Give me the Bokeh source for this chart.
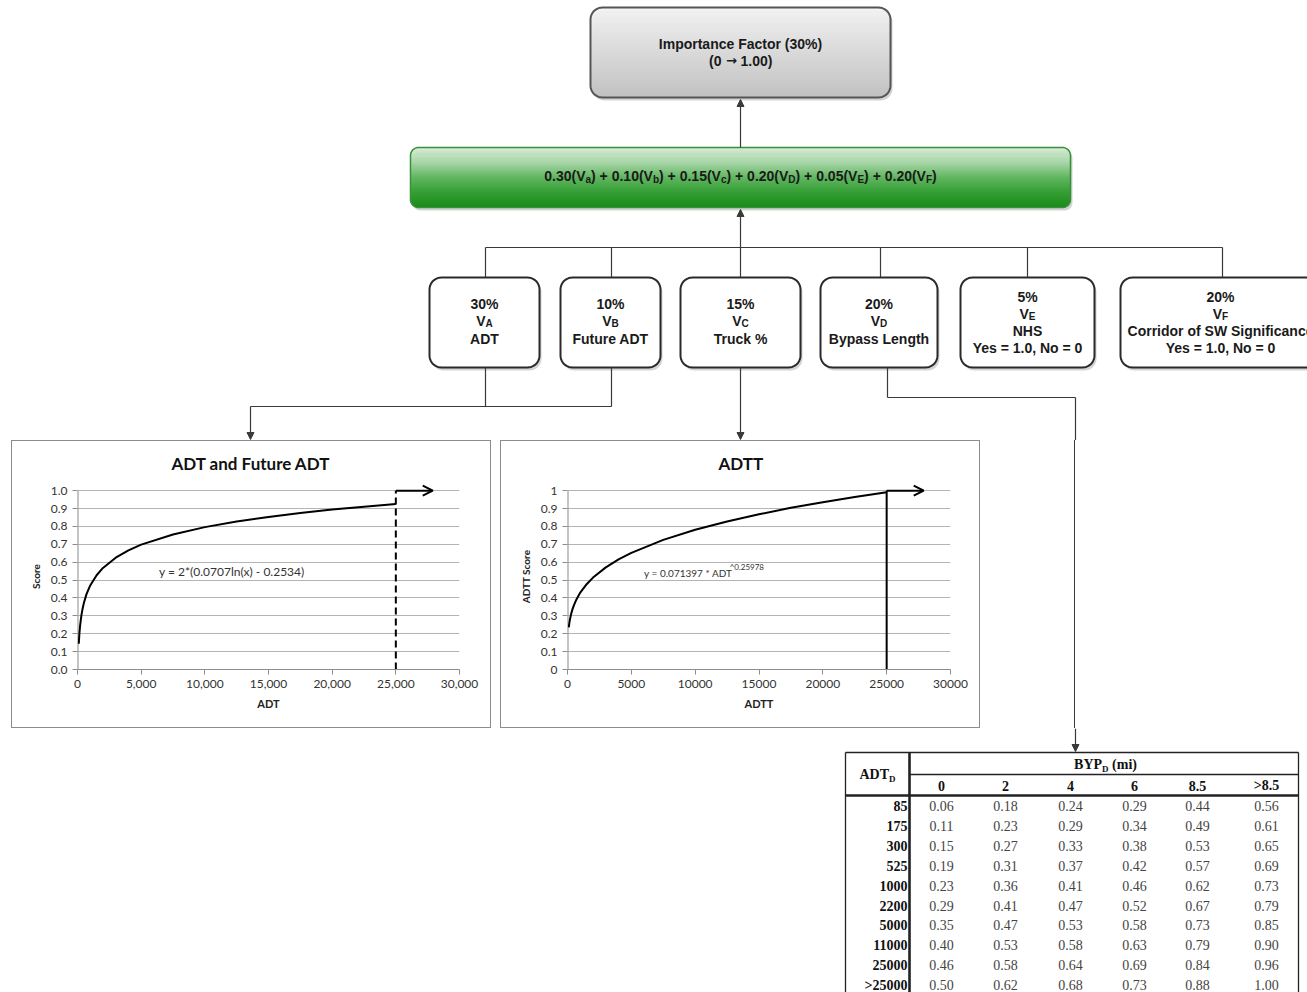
import math
from bokeh.plotting import figure
from bokeh.models import (Range1d, ColumnDataSource, Arrow, OpenHead, NormalHead, Label,
                          Spacer, Div, NumeralTickFormatter, FixedTicker)
from bokeh.layouts import column, row
from bokeh.embed import file_html
from bokeh.resources import INLINE
from bokeh.core.properties import value

# ------------------------------------------------------------------ data
importance_title = "Importance Factor (30%)"
importance_range = ["(0", "\u2192", "1.00)"]
formula_coefs = ["0.30", "0.10", "0.15", "0.20", "0.05", "0.20"]
formula_subs = ["a", "b", "c", "D", "E", "F"]
weights_pct = ["30%", "10%", "15%", "20%", "5%", "20%"]
var_subs = ["A", "B", "C", "D", "E", "F"]
var_names = ["ADT", "Future ADT", "Truck %", "Bypass Length", "NHS", "Corridor of SW Significance"]
var_extra = ["", "", "", "", "Yes = 1.0, No = 0", "Yes = 1.0, No = 0"]

adt_x = [100, 150, 200, 300, 400, 500, 700, 1000, 1500, 2000, 3000, 4000, 5000,
         7500, 10000, 12500, 15000, 17500, 20000, 22500, 25000]
adt_score = [0.144, 0.202, 0.242, 0.300, 0.340, 0.372, 0.420, 0.470, 0.527, 0.568, 0.625,
             0.666, 0.698, 0.755, 0.796, 0.827, 0.853, 0.875, 0.894, 0.910, 0.925]
adtt_x = [100, 150, 200, 300, 400, 500, 700, 1000, 1500, 2000, 3000, 4000, 5000,
          7500, 10000, 12500, 15000, 17500, 20000, 22500, 25000]
adtt_score = [0.236, 0.262, 0.283, 0.314, 0.339, 0.359, 0.392, 0.430, 0.477, 0.514, 0.571,
              0.616, 0.652, 0.725, 0.781, 0.828, 0.868, 0.904, 0.935, 0.964, 0.991]
threshold_adt = 25000
x_ticks = [0, 5000, 10000, 15000, 20000, 25000, 30000]
y_ticks = [0.0, 0.1, 0.2, 0.3, 0.4, 0.5, 0.6, 0.7, 0.8, 0.9, 1.0]
eq_adt = "y = 2*(0.0707ln(x) - 0.2534)"
eq_adtt = "y = 0.071397 * ADT"
eq_adtt_exp = "^0.25978"

byp_cols = ["0", "2", "4", "6", "8.5", ">8.5"]
adt_rows = ["85", "175", "300", "525", "1000", "2200", "5000", "11000", "25000", ">25000"]
score_table = [
    [0.06, 0.18, 0.24, 0.29, 0.44, 0.56],
    [0.11, 0.23, 0.29, 0.34, 0.49, 0.61],
    [0.15, 0.27, 0.33, 0.38, 0.53, 0.65],
    [0.19, 0.31, 0.37, 0.42, 0.57, 0.69],
    [0.23, 0.36, 0.41, 0.46, 0.62, 0.73],
    [0.29, 0.41, 0.47, 0.52, 0.67, 0.79],
    [0.35, 0.47, 0.53, 0.58, 0.73, 0.85],
    [0.40, 0.53, 0.58, 0.63, 0.79, 0.90],
    [0.46, 0.58, 0.64, 0.69, 0.84, 0.96],
    [0.50, 0.62, 0.68, 0.73, 0.88, 1.00],
]

# ------------------------------------------------------------------ helpers
SANS = "Liberation Sans"
SERIF = "Liberation Serif"
LINE = "#3a3a3a"

ARIAL_B = {' ': 278, '%': 889, '(': 333, ')': 333, '*': 389, '+': 584, ',': 278, '-': 333,
           '.': 278, '=': 584, '>': 584, 'A': 722, 'B': 722, 'C': 722, 'D': 722, 'E': 667,
           'F': 611, 'V': 667, 'a': 556, 'b': 611, 'c': 556}
TIMES_B = {' ': 250, '(': 333, ')': 333, 'A': 722, 'B': 667, 'D': 722, 'P': 611, 'T': 667,
           'Y': 722, 'i': 278, 'm': 833}


def tw(s, size, table):
    return sum(table.get(ch, 556 if ch.isdigit() else 600) for ch in s) * size / 1000.0


def add_text(p, x, y, t, size=14, style="bold", font=SANS, color="#1a1a1a", align="center"):
    p.text(x=[x], y=[y], text=[t], text_font=value(font), text_font_style=style,
           text_font_size=f"{size}px", text_align=align, text_baseline="middle",
           text_color=color)


def rich(p, cx, cy, parts, size=14, sub=10, font=SANS, table=ARIAL_B, color="#1a1a1a", drop=4):
    widths = [tw(t, sub if s else size, table) for t, s in parts]
    x = cx - sum(widths) / 2.0
    for (t, s), w in zip(parts, widths):
        fs = sub if s else size
        lead = len(t) - len(t.lstrip(" "))
        add_text(p, x + tw(" " * lead, fs, table), cy + (drop if s else 0), t.strip(" "),
                 size=fs, font=font, color=color, align="left")
        x += w


def rrect(x0, y0, x1, y1, r, n=10):
    xs, ys = [], []
    corners = [(x1 - r, y0 + r, -90, 0), (x1 - r, y1 - r, 0, 90),
               (x0 + r, y1 - r, 90, 180), (x0 + r, y0 + r, 180, 270)]
    for cx, cy, a0, a1 in corners:
        for k in range(n + 1):
            a = math.radians(a0 + (a1 - a0) * k / n)
            xs.append(cx + r * math.cos(a))
            ys.append(cy + r * math.sin(a))
    return xs, ys


def hex2rgb(h):
    h = h.lstrip("#")
    return tuple(int(h[i:i + 2], 16) for i in (0, 2, 4))


def grad_color(stops, f):
    for (f0, c0), (f1, c1) in zip(stops[:-1], stops[1:]):
        if f <= f1:
            t = 0 if f1 == f0 else (f - f0) / (f1 - f0)
            a, b = hex2rgb(c0), hex2rgb(c1)
            return "#%02x%02x%02x" % tuple(int(round(a[i] + (b[i] - a[i]) * t)) for i in range(3))
    return stops[-1][1]


def box(p, x0, y0, x1, y1, r, fill_stops=None, fill="white", line_color="#333333", lw=2.0):
    sx, sy = rrect(x0 + 2, y0 + 3, x1 + 2, y1 + 3, r)
    p.patch(sx, sy, fill_color="#b8b8b8", fill_alpha=0.6, line_color=None)
    bx, by = rrect(x0, y0, x1, y1, r)
    if fill_stops is None:
        p.patch(bx, by, fill_color=fill, line_color=None)
    else:
        n = int(y1 - y0)
        L, R, T, B, C = [], [], [], [], []
        for k in range(n):
            ya, yb = y0 + k, y0 + k + 1
            ym = (ya + yb) / 2
            if ym < y0 + r:
                d = (y0 + r) - ym
            elif ym > y1 - r:
                d = ym - (y1 - r)
            else:
                d = 0
            dx = r - math.sqrt(max(0.0, r * r - d * d))
            L.append(x0 + dx)
            R.append(x1 - dx)
            T.append(ya - 0.3)
            B.append(yb + 0.3)
            C.append(grad_color(fill_stops, (ym - y0) / (y1 - y0)))
        p.quad(left=L, right=R, top=T, bottom=B, fill_color=C, line_color=None)
    p.patch(bx, by, fill_color=None, line_color=line_color, line_width=lw)


def plain_fig(w, h, xr, yr):
    p = figure(width=w, height=h, x_range=Range1d(*xr), y_range=Range1d(*yr),
               output_backend="svg", toolbar_location=None, min_border=0,
               x_axis_location=None, y_axis_location=None, outline_line_color=None)
    p.grid.visible = False
    p.background_fill_color = "white"
    p.border_fill_color = "white"
    return p


def head():
    return NormalHead(size=7, fill_color=LINE, line_color=LINE, line_width=1)


# ------------------------------------------------------------------ top diagram
top = plain_fig(1307, 440, (0, 1307), (440, 0))

box(top, 590, 7, 890, 97, 12, fill_stops=[(0, "#f4f4f4"), (1, "#c0c0c0")], line_color="#555555")
add_text(top, 740, 43, importance_title, size=14)
add_text(top, 721, 60, importance_range[0], size=14, align="right")
add_text(top, 731, 60, importance_range[1], size=13, font="DejaVu Sans")
add_text(top, 740, 60, importance_range[2], size=14, align="left")

box(top, 410, 147, 1070, 207, 8,
    fill_stops=[(0, "#d6ecd6"), (0.25, "#a6d6a6"), (0.5, "#5ab55a"), (0.75, "#2a9b2a"), (1, "#0e860e")],
    line_color="#3a8f3a", lw=1.5)
parts = []
for i, (c, s) in enumerate(zip(formula_coefs, formula_subs)):
    parts.append((("" if i == 0 else ") + ") + c + "(V", False))
    parts.append((s, True))
parts.append((")", False))
rich(top, 740, 175, parts, size=14, sub=10)

top.add_layout(Arrow(end=head(), x_start=740, y_start=147, x_end=740, y_end=99,
                     line_color=LINE, line_width=1.2))
top.add_layout(Arrow(end=head(), x_start=740, y_start=247, x_end=740, y_end=209,
                     line_color=LINE, line_width=1.2))

box_x0 = [429, 560, 680, 820, 960, 1120]
box_x1 = [539, 660, 800, 937, 1094, 1320]
conn_x = [485, 611, 740, 880, 1027, 1222]
top.segment(x0=[conn_x[0]], y0=[247], x1=[conn_x[-1]], y1=[247], line_color=LINE, line_width=1.2)
top.segment(x0=conn_x, y0=[247] * 6, x1=conn_x, y1=[277] * 6, line_color=LINE, line_width=1.2)

for i in range(6):
    x0, x1 = box_x0[i], box_x1[i]
    box(top, x0, 277, x1, 367, 12, fill="white", line_color="#2a2a2a", lw=2.0)
    cx = (x0 + x1) / 2.0
    if var_extra[i]:
        ys = [296, 313, 330, 347]
    else:
        ys = [303, 320, 338]
    add_text(top, cx, ys[0], weights_pct[i])
    rich(top, cx, ys[1], [("V", False), (var_subs[i], True)], size=14, sub=10, drop=3)
    add_text(top, cx, ys[2], var_names[i])
    if var_extra[i]:
        add_text(top, cx, ys[3], var_extra[i])

top.segment(x0=[485, 611, 250, 887, 887, 1075],
            y0=[367, 367, 406, 367, 397, 397],
            x1=[485, 611, 611, 887, 1075, 1075],
            y1=[406, 406, 406, 397, 397, 440], line_color=LINE, line_width=1.2)
top.add_layout(Arrow(end=head(), x_start=250, y_start=406, x_end=250, y_end=439,
                     line_color=LINE, line_width=1.2))
top.add_layout(Arrow(end=head(), x_start=740, y_start=367, x_end=740, y_end=439,
                     line_color=LINE, line_width=1.2))


# ------------------------------------------------------------------ charts
def chart(title, xs, ys, xlab, ylab, xfmt, yfmt, dash, left, right, title_offset):
    p = figure(width=480, height=288, x_range=Range1d(0, 30000), y_range=Range1d(0, 1.04),
               output_backend="svg", toolbar_location=None, title=title,
               min_border_left=left, min_border_right=right, min_border_top=42,
               min_border_bottom=60, outline_line_color=None,
               styles={"border": "1px solid #8c8c8c", "box-sizing": "border-box"})
    p.title.text_font = "Lato"
    p.title.text_font_size = "17px"
    p.title.text_font_style = "bold"
    p.title.align = "left"
    p.title.offset = title_offset
    p.title.text_color = "#111111"
    p.title.text_line_height = 1.0
    p.title.standoff = 19
    p.xgrid.grid_line_color = None
    p.ygrid.ticker = FixedTicker(ticks=y_ticks)
    p.ygrid.grid_line_color = "#b4b4b4"
    p.xaxis.ticker = FixedTicker(ticks=x_ticks)
    p.yaxis.ticker = FixedTicker(ticks=y_ticks)
    p.xaxis.formatter = NumeralTickFormatter(format=xfmt)
    p.yaxis.formatter = NumeralTickFormatter(format=yfmt)
    for ax in (p.xaxis, p.yaxis):
        ax.axis_line_color = "#8c8c8c"
        ax.major_tick_line_color = "#8c8c8c"
        ax.minor_tick_line_color = None
        ax.major_tick_in = 0
        ax.major_tick_out = 5
        ax.major_label_text_font = "Lato"
        ax.major_label_text_font_size = "12px"
        ax.major_label_text_color = "#333333"
        ax.axis_label_text_font = "Lato"
        ax.axis_label_text_font_style = "bold"
        ax.axis_label_text_color = "#222222"
    p.yaxis.axis_line_color = None
    p.xaxis.axis_label = xlab
    p.yaxis.axis_label = ylab
    p.xaxis.axis_label_text_font_size = "11px"
    p.yaxis.axis_label_text_font_size = "10px"
    p.xaxis.axis_label_standoff = 6
    p.yaxis.axis_label_standoff = 6
    p.segment(x0=[0], y0=[0], x1=[0], y1=[1.0], line_color="#8c8c8c", line_width=2)
    p.line(xs, ys, line_color="black", line_width=2)
    p.segment(x0=[threshold_adt], y0=[0], x1=[threshold_adt], y1=[1.0],
              line_color="black", line_width=2, line_dash=dash)
    p.add_layout(Arrow(end=OpenHead(size=10, line_width=2, line_color="black"),
                       x_start=threshold_adt, y_start=1.0, x_end=27900, y_end=1.0,
                       line_color="black", line_width=2))
    return p


c1 = chart("ADT and Future ADT", adt_x, adt_score, "ADT", "Score", "0,0", "0.0", "7 4", 65, 33, 94)
c1.add_layout(Label(x=6400, y=0.548, text=eq_adt, text_font="Lato", text_font_size="12px",
                    text_color="#333333", text_baseline="middle"))
c2 = chart("ADTT", adtt_x, adtt_score, "ADTT", "ADTT Score", "0", "0.[0]", "solid", 66, 31, 151)
c2.add_layout(Label(x=6000, y=0.542, text=eq_adtt, text_font="Lato", text_font_size="10px",
                    text_color="#333333", text_baseline="middle"))
c2.add_layout(Label(x=12700, y=0.572, text=eq_adtt_exp, text_font="Lato", text_font_size="8px",
                    text_color="#333333", text_baseline="middle"))

conn = Div(text="<div style='margin-left:94px;width:0;height:288px;"
                "border-left:1.2px solid #3a3a3a'></div>",
           width=327, height=288, margin=0)

middle = row(Spacer(width=11, height=288, margin=0), c1, Spacer(width=9, height=288, margin=0),
             c2, conn)

# ------------------------------------------------------------------ table
bot = plain_fig(1307, 264, (0, 1307), (992, 728))
bot.add_layout(Arrow(end=head(), x_start=1075, y_start=728, x_end=1075, y_end=751,
                     line_color=LINE, line_width=1.2))

col_cx = [941, 1005, 1070, 1134, 1197, 1266]
row_y = [805.5 + 19.9 * i for i in range(len(adt_rows))]

bot.segment(x0=[845, 845, 1298], y0=[752, 752, 752],
            x1=[1298, 845, 1298], y1=[752, 992, 992],
            line_color="#222222", line_width=1.3)
bot.segment(x0=[909], y0=[752], x1=[909], y1=[992], line_color="#222222", line_width=2.6)
bot.segment(x0=[909], y0=[774], x1=[1298], y1=[774], line_color="#222222", line_width=1.6)
bot.segment(x0=[845], y0=[795], x1=[1298], y1=[795], line_color="#222222", line_width=2.6)

rich(bot, 877, 774, [("ADT", False), ("D", True)], size=14, sub=9, font=SERIF, table=TIMES_B,
     color="#111111", drop=4)
rich(bot, 1105, 764, [("BYP", False), ("D", True), (" (mi)", False)], size=14, sub=9,
     font=SERIF, table=TIMES_B, color="#111111", drop=4)

hdr = ColumnDataSource(dict(x=col_cx, y=[785] * len(byp_cols), t=byp_cols))
bot.text(x="x", y="y", text="t", source=hdr, text_font=value(SERIF), text_font_style="bold",
         text_font_size="14px", text_align="center", text_baseline="middle", text_color="#111111")
rl = ColumnDataSource(dict(x=[907] * len(adt_rows), y=row_y, t=adt_rows))
bot.text(x="x", y="y", text="t", source=rl, text_font=value(SERIF), text_font_style="bold",
         text_font_size="14px", text_align="right", text_baseline="middle", text_color="#111111")
vx, vy, vt = [], [], []
for i, rowvals in enumerate(score_table):
    for j, v in enumerate(rowvals):
        vx.append(col_cx[j])
        vy.append(row_y[i])
        vt.append(f"{v:.2f}")
vals = ColumnDataSource(dict(x=vx, y=vy, t=vt))
bot.text(x="x", y="y", text="t", source=vals, text_font=value(SERIF), text_font_size="14px",
         text_align="center", text_baseline="middle", text_color="#444444")

page = column(top, middle, bot)
open("out.html", "w").write(file_html(page, INLINE))
